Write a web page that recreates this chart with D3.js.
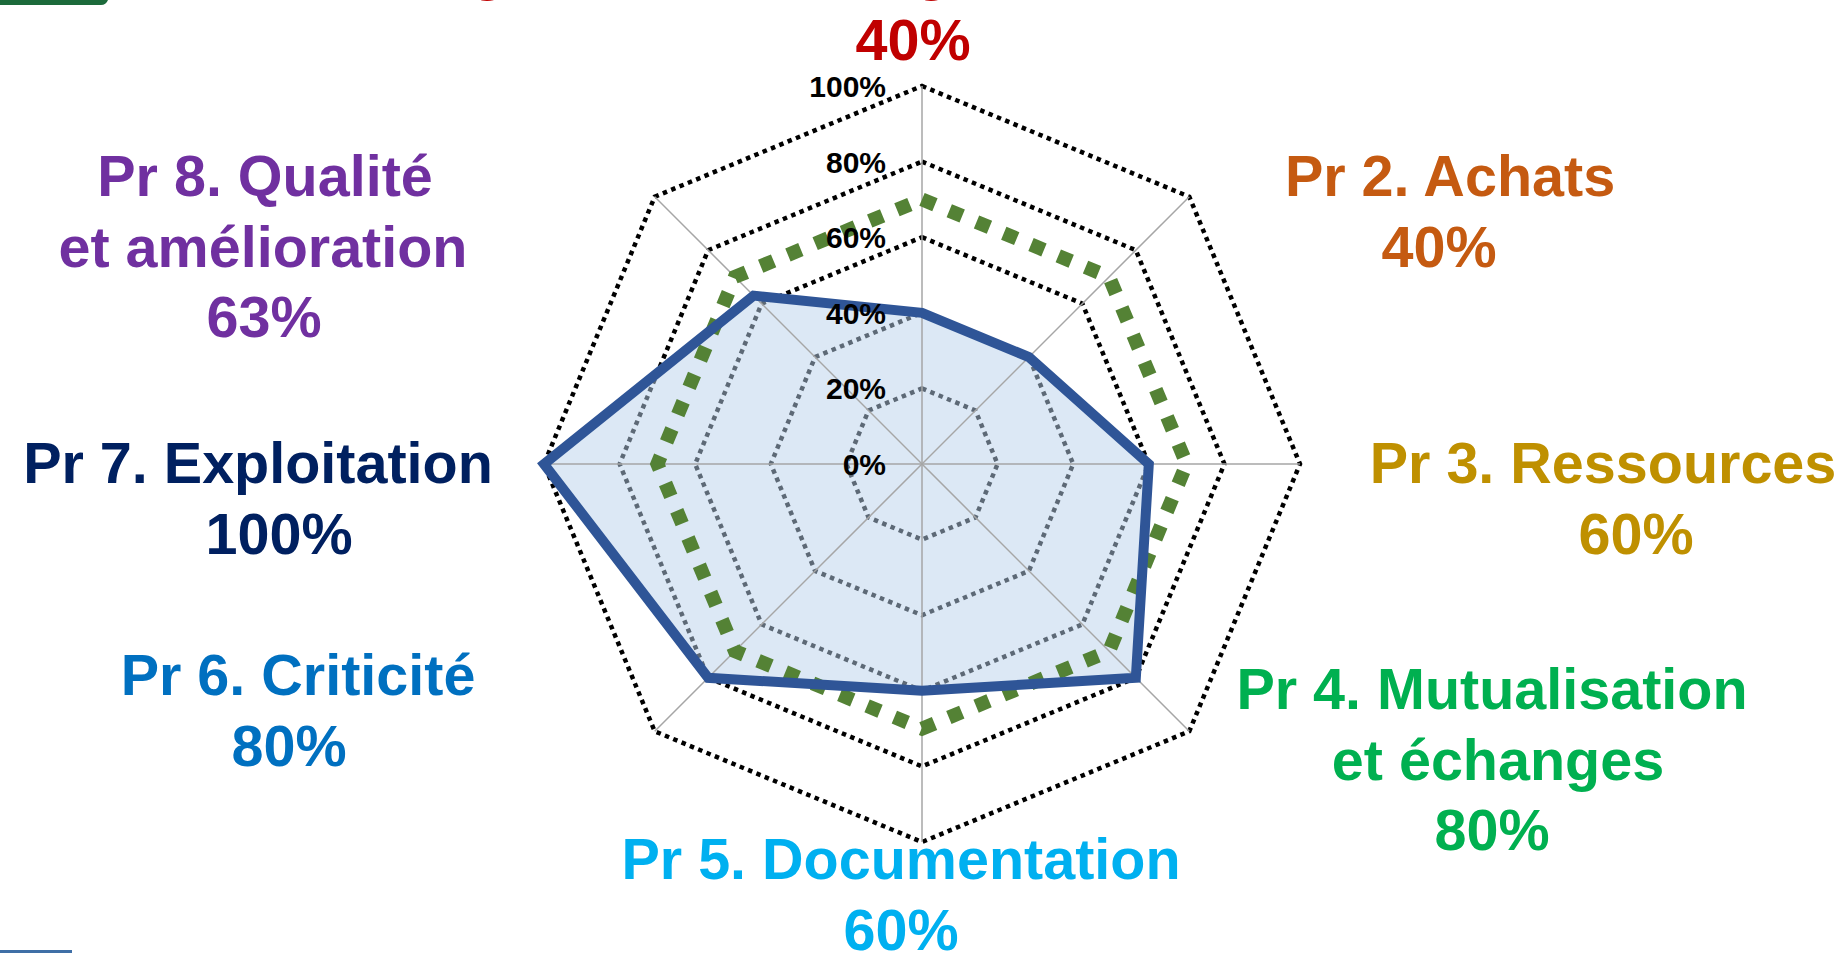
<!DOCTYPE html>
<html>
<head>
<meta charset="utf-8">
<script src="https://cdn.jsdelivr.net/npm/d3@7"></script>
<style>
  html, body { margin: 0; padding: 0; background: #fff; overflow: hidden; }
  svg { display: block; }
</style>
</head>
<body>
<div id="main"></div>
<script>
// radar data
const categories = [
  "Pr 1. Management et stratégie",
  "Pr 2. Achats",
  "Pr 3. Ressources",
  "Pr 4. Mutualisation\net échanges",
  "Pr 5. Documentation",
  "Pr 6. Criticité",
  "Pr 7. Exploitation",
  "Pr 8. Qualité\net amélioration"
];
const scores = [0.40, 0.40, 0.60, 0.80, 0.60, 0.80, 1.00, 0.63];
const target = [0.70, 0.70, 0.70, 0.70, 0.70, 0.70, 0.70, 0.70];
const tickValues = [0, 0.2, 0.4, 0.6, 0.8, 1.0];
const labelColors = ["#c00000", "#c55a11", "#bf9000", "#00b050", "#00b0f0", "#0070c0", "#002060", "#7030a0"];

// label placement (x of each line centre, baseline of first line)
const labelLayout = [
  {xs: [590, 913], y: -11},
  {xs: [1450, 1439], y: 196},
  {xs: [1603, 1636], y: 483},
  {xs: [1492, 1498, 1492], y: 709},
  {xs: [901, 901], y: 879},
  {xs: [298, 289], y: 695},
  {xs: [258, 279], y: 483},
  {xs: [265, 263, 264], y: 196}
];

const ctx = {width: 1840, height: 953, cx: 922, cy: 464, R: 378, lineGap: 70.5};

function createViz() {
  const svg = d3.select("#main").append("svg")
    .attr("width", ctx.width)
    .attr("height", ctx.height);

  // slide decorations peeking at the corners
  svg.append("path")
    .attr("d", "M0,0 H108 Q106,5 101,5 H0 Z")
    .attr("fill", "#1c6a3b");
  svg.append("rect")
    .attr("x", 0).attr("y", 950).attr("width", 72).attr("height", 3)
    .attr("fill", "#3f6fa6");

  const n = categories.length;
  const step = 2 * Math.PI / n;
  const r = d3.scaleLinear().domain([0, 1]).range([0, ctx.R]);

  const radial = d3.lineRadial()
    .angle((d, i) => i * step)
    .radius(d => r(d))
    .curve(d3.curveLinearClosed);

  const g = svg.append("g").attr("transform", `translate(${ctx.cx},${ctx.cy})`);

  // grid rings
  g.selectAll("path.ring")
    .data(tickValues.filter(t => t > 0))
    .enter().append("path")
    .attr("class", "ring")
    .attr("d", t => radial(categories.map(() => t)))
    .attr("fill", "none")
    .attr("stroke", "#000")
    .attr("stroke-width", 4.5)
    .attr("stroke-dasharray", "4.5 4.5");

  // filled area (semi transparent so rings show through)
  g.append("path")
    .attr("d", radial(scores))
    .attr("fill", "rgb(186,210,236)")
    .attr("fill-opacity", 0.5)
    .attr("stroke", "none");

  // spokes
  g.selectAll("line.spoke")
    .data(categories)
    .enter().append("line")
    .attr("class", "spoke")
    .attr("x1", 0).attr("y1", 0)
    .attr("x2", (d, i) => r(1) * Math.sin(i * step))
    .attr("y2", (d, i) => -r(1) * Math.cos(i * step))
    .attr("stroke", "#a6a6a6")
    .attr("stroke-width", 1.5);

  // target series
  g.append("path")
    .attr("d", radial(target))
    .attr("fill", "none")
    .attr("stroke", "#548235")
    .attr("stroke-width", 14)
    .attr("stroke-dasharray", "14 15.5");

  // score outline
  g.append("path")
    .attr("d", radial(scores))
    .attr("fill", "none")
    .attr("stroke", "#2f5597")
    .attr("stroke-width", 10)
    .attr("stroke-linejoin", "miter");

  // tick labels
  const fmt = d3.format(".0%");
  g.selectAll("text.tick")
    .data(tickValues)
    .enter().append("text")
    .attr("class", "tick")
    .attr("x", -36)
    .attr("y", d => -r(d) + 11)
    .attr("text-anchor", "end")
    .style("font-family", "'Liberation Sans', Arial, sans-serif")
    .style("font-weight", "bold")
    .style("font-size", "30px")
    .attr("fill", "#000")
    .text(fmt);

  // category labels
  categories.forEach(function(c, i) {
    const lines = c.split("\n").concat([fmt(scores[i])]);
    const lay = labelLayout[i];
    lines.forEach(function(l, k) {
      svg.append("text")
        .attr("x", lay.xs[k])
        .attr("y", lay.y + k * ctx.lineGap)
        .attr("text-anchor", "middle")
        .style("font-family", "'Liberation Sans', Arial, sans-serif")
        .style("font-weight", "bold")
        .style("font-size", "57.5px")
        .attr("fill", labelColors[i])
        .text(l);
    });
  });
}

createViz();
</script>
</body>
</html>
